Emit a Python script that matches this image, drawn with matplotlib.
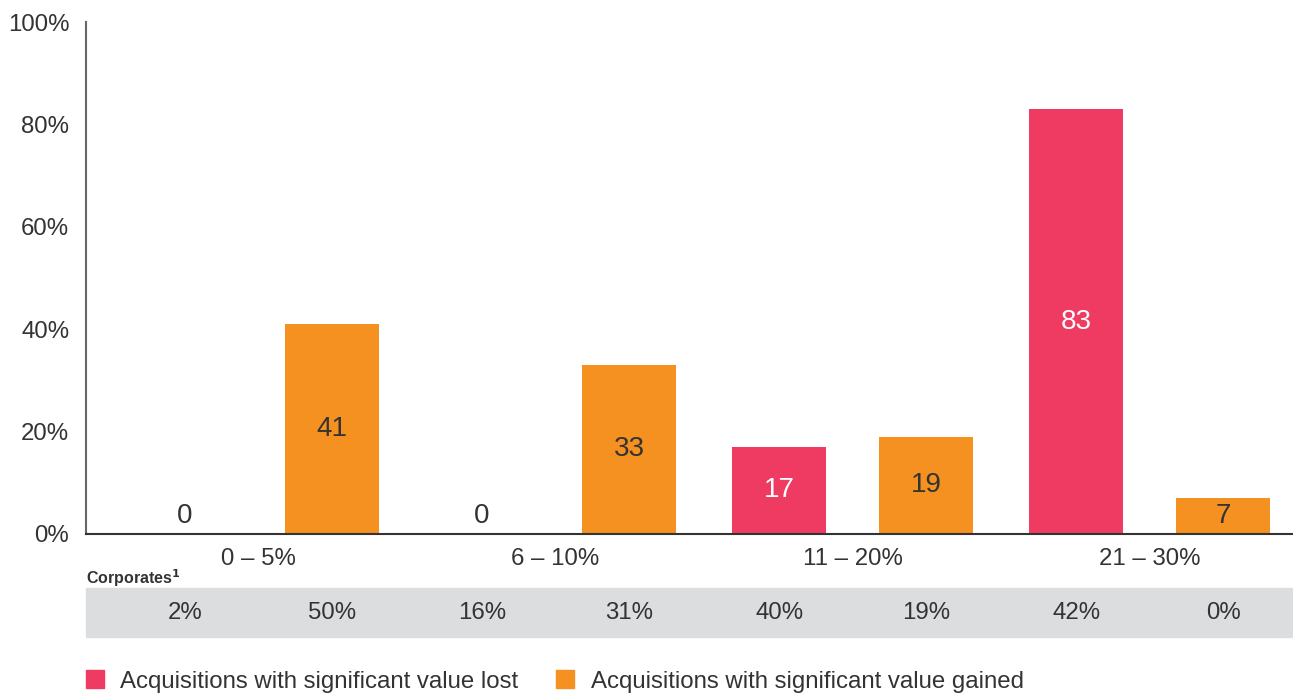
import numpy as np
import matplotlib.pyplot as plt
import matplotlib.transforms as mtransforms
from matplotlib.patches import Rectangle

# Data
groups = ["0 – 5%", "6 – 10%", "11 – 20%", "21 – 30%"]
value_lost = [0, 0, 17, 83]
value_gained = [41, 33, 19, 7]
corporates = ["2%", "50%", "16%", "31%", "40%", "19%", "42%", "0%"]

RED = "#ef3b61"
ORANGE = "#f59120"
TEXT = "#333333"
BAND = "#dcdddf"

plt.rcParams["font.family"] = ["Liberation Sans", "DejaVu Sans"]

fig = plt.figure(figsize=(12.93, 6.95), dpi=100)
ax = fig.add_axes([0.0665, 0.2317, 0.9335, 0.7366])

n = len(groups)
x_lost = np.arange(n) * 2
x_gained = x_lost + 0.99
width = 0.633

ax.bar(x_lost, value_lost, width=width, color=RED)
ax.bar(x_gained, value_gained, width=width, color=ORANGE)

# bar labels, in the middle of each bar (zero bars get a label just above the axis)
for xs, vals, col_in in [(x_lost, value_lost, "white"), (x_gained, value_gained, TEXT)]:
    for x, v in zip(xs, vals):
        y = max(v / 2, 3.5)
        c = col_in if v > 0 else TEXT
        ax.text(x, y, str(v), ha="center", va="center", fontsize=20, color=c)

ax.set_xlim(-0.667, 7.46)
ax.set_ylim(0, 100)
ax.set_yticks(np.arange(0, 101, 20))
ax.set_yticklabels([f"{t}%" for t in range(0, 101, 20)], fontsize=17.3, color=TEXT,
                   va="center_baseline")
ax.tick_params(axis="y", length=0, pad=12)
ax.tick_params(axis="x", length=0, pad=10)
ax.set_xticks((x_lost + x_gained) / 2)
ax.set_xticklabels(groups, fontsize=17.3, color=TEXT)

for s in ["top", "right"]:
    ax.spines[s].set_visible(False)
ax.spines["left"].set_color("#666666")
ax.spines["left"].set_linewidth(1.5)
ax.spines["bottom"].set_color("#333333")
ax.spines["bottom"].set_linewidth(1.5)

# Corporates row under the chart
fig_h = 695
trans = mtransforms.blended_transform_factory(ax.transData, fig.transFigure)
fig.text(0.0665, 1 - 578 / fig_h, "Corporates$^\\mathbf{1}$", fontsize=11.5, fontweight="bold",
         color=TEXT, ha="left", va="center")
fig.patches.append(Rectangle((0.0665, 1 - 637 / fig_h), 0.9335, 49 / fig_h,
                             transform=fig.transFigure, color=BAND, zorder=-1))
all_x = np.sort(np.concatenate([x_lost, x_gained]))
for x, lab in zip(all_x, corporates):
    fig.text(x, 1 - 613 / fig_h, lab, transform=trans, ha="center", va="center",
             fontsize=17.3, color=TEXT, zorder=5)

# Legend
fig.patches.append(Rectangle((86 / 1293, 1 - 688 / fig_h), 18 / 1293, 18 / fig_h,
                             transform=fig.transFigure, color=RED))
fig.text(120 / 1293, 1 - 682 / fig_h, "Acquisitions with significant value lost",
         fontsize=17.3, color=TEXT, va="center")
fig.patches.append(Rectangle((556 / 1293, 1 - 688 / fig_h), 18 / 1293, 18 / fig_h,
                             transform=fig.transFigure, color=ORANGE))
fig.text(591 / 1293, 1 - 682 / fig_h, "Acquisitions with significant value gained",
         fontsize=17.3, color=TEXT, va="center")

fig.savefig("out.png", dpi=100)
